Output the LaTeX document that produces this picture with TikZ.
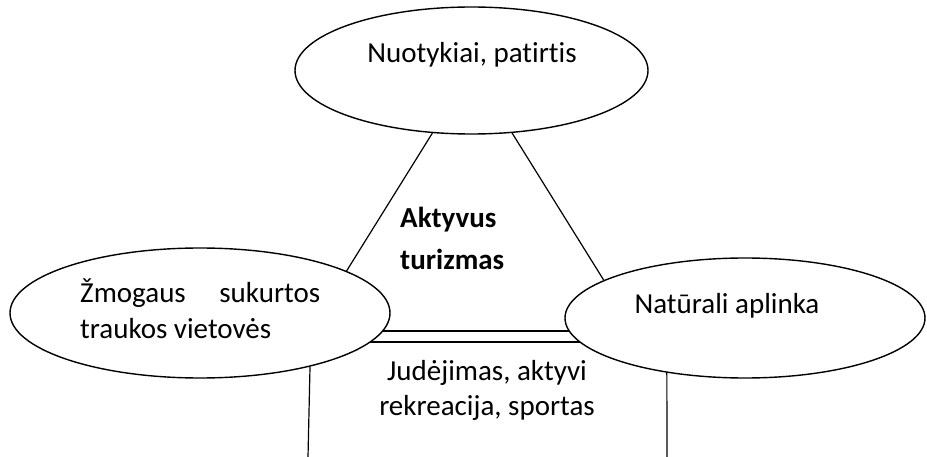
\documentclass[tikz,border=0pt]{standalone}
\usepackage{fontspec}
\setmainfont{Carlito}[Ligatures=NoCommon]
\usetikzlibrary{shapes.geometric,backgrounds}
\begin{document}
\begin{tikzpicture}[x=1pt,y=-1pt,
  oval/.style={ellipse,draw,line width=1.4pt,inner sep=0pt,fill=white},
  txt/.style={inner sep=0pt,font=\fontsize{29}{35}\selectfont},
  btxt/.style={inner sep=0pt,font=\fontsize{29}{35}\selectfont\bfseries},
  conn/.style={line width=1.2pt}]
\useasboundingbox (0,0) rectangle (927,457);
\node[oval,minimum width=353pt,minimum height=127pt] (T) at (471.5,70.5) {};
\node[oval,minimum width=380pt,minimum height=130pt] (L) at (200,313) {};
\node[oval,minimum width=360pt,minimum height=120pt] (R) at (745,318) {};
\node[txt,anchor=base] (t1) at (472,63) {Nuotykiai, patirtis};
\node[txt,anchor=base west] (l1) at (80,303) {\makebox[240pt][s]{Žmogaus\hfill sukurtos}};
\node[txt,anchor=base west] (l2) at (80,338) {traukos vietovės};
\node[txt,anchor=base] (r1) at (727,313) {Natūrali aplinka};
\node[btxt,anchor=base west] (a1) at (400,228) {Aktyvus};
\node[btxt,anchor=base west] (a2) at (400,270) {turizmas};
\node[txt,anchor=base] (b1) at (487,380) {Judėjimas, aktyvi};
\node[txt,anchor=base] (b2) at (487,415) {rekreacija, sportas};
\coordinate (lb) at (308,457);
\coordinate (rb) at (667,457);
\draw[conn] (T.-122.5) -- (L.16.2);
\draw[conn] (T.-57.5) -- (R.165.4);
\begin{scope}[on background layer]
\draw[conn] (L.center) ++(0,18) coordinate (u1) -- (R.center |- u1);
\draw[conn] (L.center) ++(0,29) coordinate (u2) -- (R.center |- u2);
\end{scope}
\draw[conn] (L.-26.3) -- (lb);
\draw[conn] (R.-145.3) -- (rb);
\end{tikzpicture}
\end{document}
